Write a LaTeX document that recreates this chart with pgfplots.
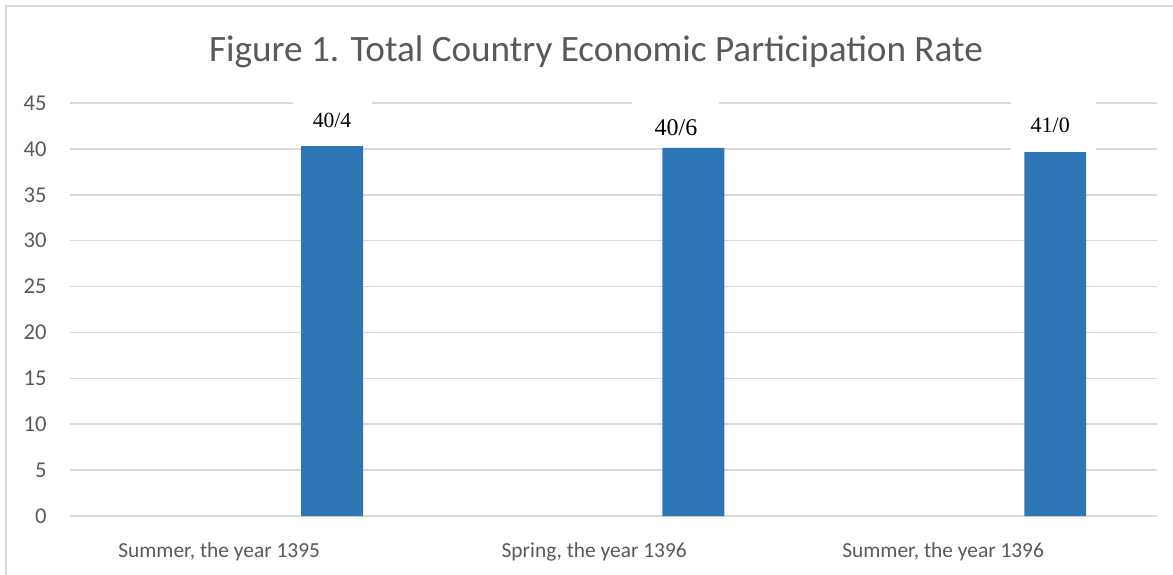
\documentclass[border=0pt]{standalone}
\usepackage{pgfplots}
\pgfplotsset{compat=1.18}
\usepackage{fontspec}
\setmainfont{Carlito}
\newfontfamily\serifl{Liberation Serif}
\definecolor{barblue}{HTML}{2E75B6}
\definecolor{txtgray}{HTML}{595959}
\definecolor{gridgray}{HTML}{D9D9D9}
\begin{document}
\begin{tikzpicture}[x=0.5pt,y=-0.5pt]
\useasboundingbox (0,0) rectangle (1173,574);
\draw[gridgray, line width=1pt] (5.5,5.5) rectangle (1190,590);
\node[txtgray, font=\fontsize{18.6}{22}\selectfont, inner sep=0pt] at (596,52) {Figure 1. Total Country Economic Participation Rate};
\begin{axis}[
  at={(35pt,-258pt)}, anchor=south west,
  scale only axis, width=543.5pt, height=206.5pt,
  xmin=-0.412, xmax=2.591, ymin=0, ymax=45,
  ytick={0,5,...,45},
  xtick={0,1.036,2},
  xticklabels={{Summer, the year 1395},{Spring, the year 1396},{Summer, the year 1396}},
  /pgf/number format/assume math mode=true,
  axis line style={draw=none},
  major tick length=0pt,
  ymajorgrids,
  grid style={gridgray, line width=0.8pt},
  tick label style={txtgray},
  yticklabel style={anchor=east, inner sep=0pt, xshift=-11.5pt, font=\fontsize{11.3}{13}\selectfont},
  xticklabel style={anchor=north, inner sep=0pt, yshift=-13pt, font=\fontsize{10.7}{13}\selectfont},
  clip=false,
]
% white label boxes
\addplot[only marks, mark=none, nodes near coords={},
  nodes near coords style={anchor=center, fill=white, minimum width=39.5pt, minimum height=18pt, inner sep=0pt}]
  coordinates {(0.312,43.1)};
\addplot[only marks, mark=none, nodes near coords={},
  nodes near coords style={anchor=center, fill=white, minimum width=43.5pt, minimum height=21pt, inner sep=0pt}]
  coordinates {(1.262,42.9)};
\addplot[only marks, mark=none, nodes near coords={},
  nodes near coords style={anchor=center, fill=white, minimum width=42.5pt, minimum height=26pt, inner sep=0pt}]
  coordinates {(2.305,42.48)};
% bars
\addplot[ybar, bar width=0.171, fill=barblue, draw=none] coordinates {(0.312,40.3) (1.31,40.1) (2.31,39.65)};
% label texts
\addplot[only marks, mark=none, nodes near coords={40/4},
  nodes near coords style={anchor=center, inner sep=0pt, text=black, font=\serifl\fontsize{10.8}{12}\selectfont}]
  coordinates {(0.312,43.1)};
\addplot[only marks, mark=none, nodes near coords={40/6},
  nodes near coords style={anchor=center, inner sep=0pt, text=black, font=\serifl\fontsize{12}{14}\selectfont}]
  coordinates {(1.262,42.3)};
\addplot[only marks, mark=none, nodes near coords={41/0},
  nodes near coords style={anchor=center, inner sep=0pt, text=black, font=\serifl\fontsize{11}{13}\selectfont}]
  coordinates {(2.296,42.6)};
\end{axis}
\end{tikzpicture}
\end{document}
